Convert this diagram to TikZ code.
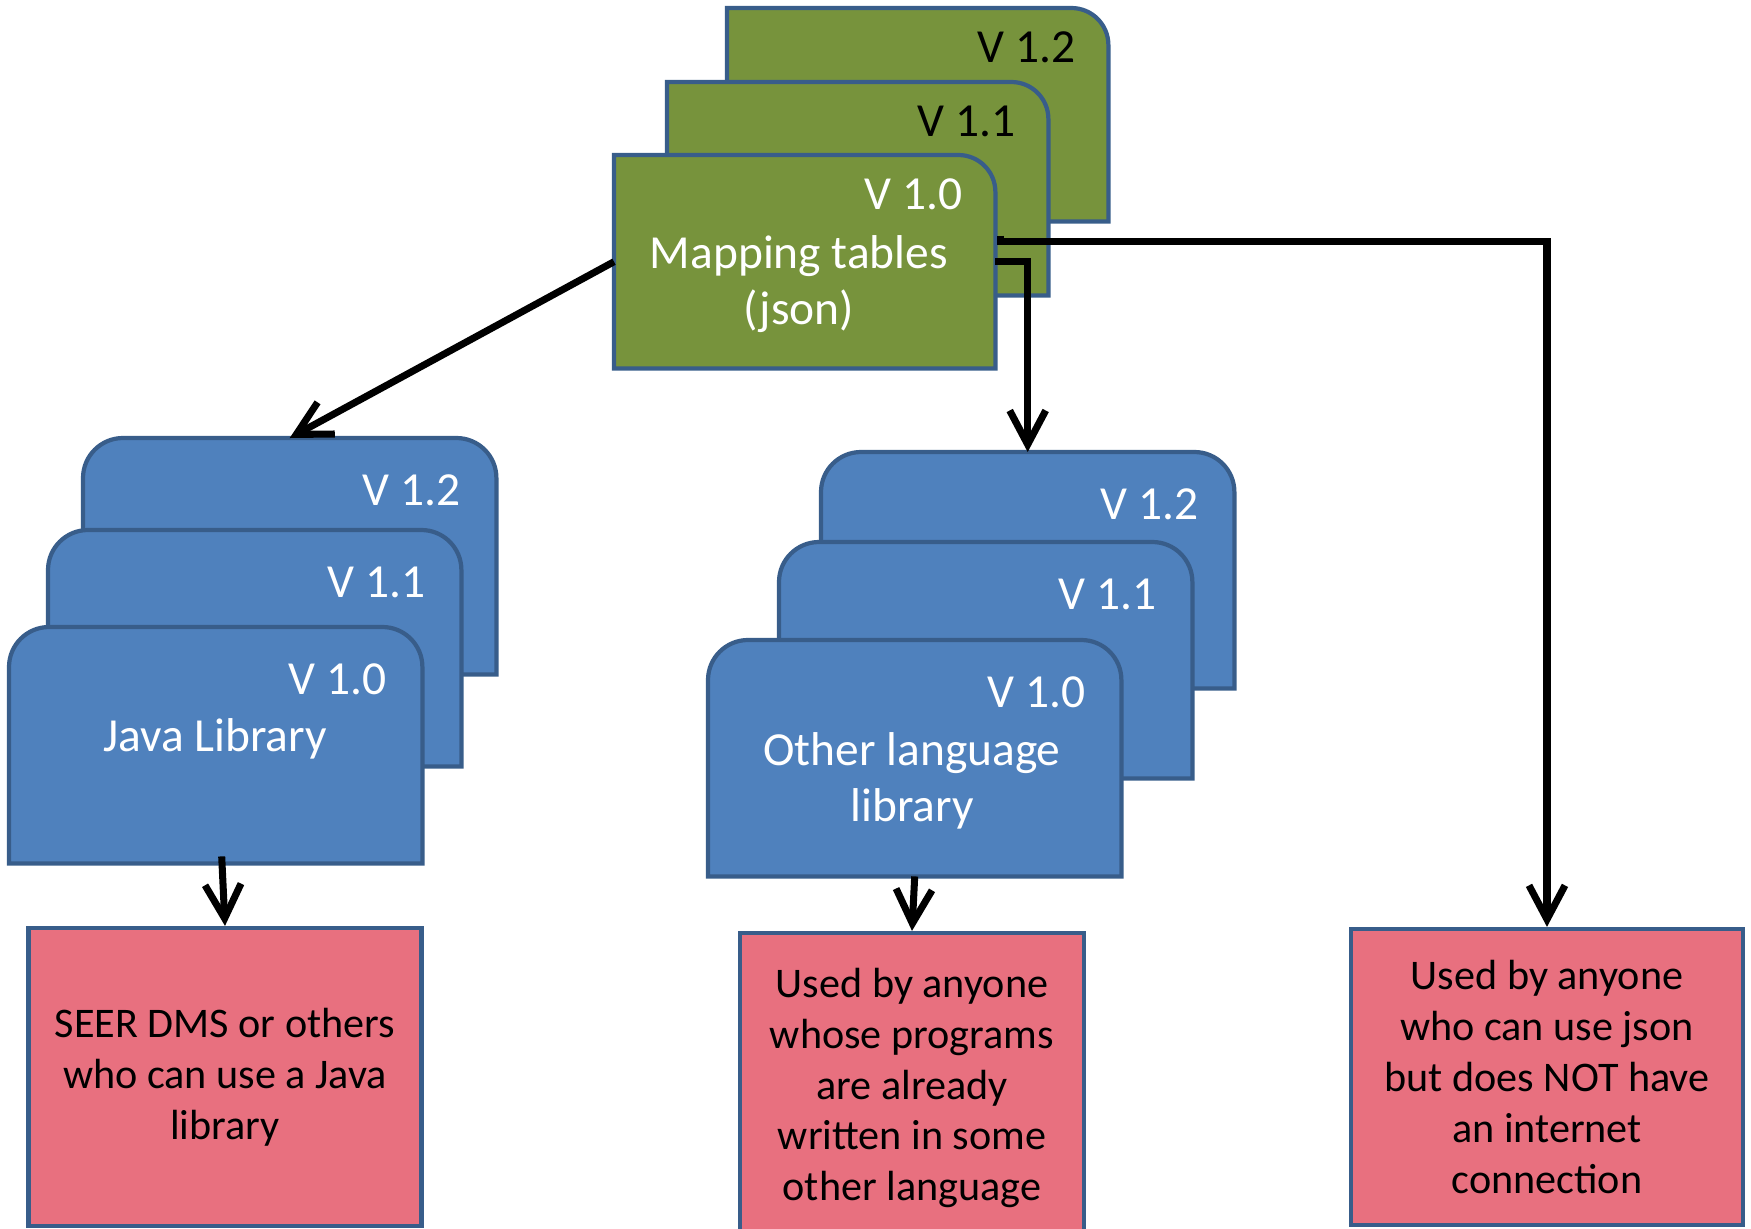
\documentclass[tikz,border=0pt]{standalone}
\usepackage{fontspec}
\setmainfont{Carlito}
\usepackage{tikz}
\usetikzlibrary{arrows.meta}

\definecolor{edge}{HTML}{385D8A}
\definecolor{mapgreen}{HTML}{77933C}
\definecolor{libblue}{HTML}{4F81BD}
\definecolor{userpink}{HTML}{E8707F}

\begin{document}
\begin{tikzpicture}[
    gcard/.style={minimum width=3.80cm, minimum height=2.12cm, inner sep=0pt, anchor=north west},
    bcard/.style={minimum width=4.12cm, minimum height=2.35cm, inner sep=0pt, anchor=north west},
    cardline/.style={draw=edge, line width=1.2pt},
    version/.style={anchor=east, inner sep=0pt, font=\fontsize{13.5}{16}\selectfont},
    cardtext/.style={align=center, inner sep=0pt, text=white, font=\fontsize{13.5}{16}\selectfont},
    userbox/.style={draw=edge, fill=userpink, line width=1.2pt, align=center, inner sep=0pt,
        font=\fontsize{12}{14.5}\selectfont},
    flow/.style={-{Straight Barb[length=3.4mm, width=3.6mm]}, line width=2pt}
]
    \useasboundingbox (0,0) rectangle (17.51,-12.29);

    % Mapping tables, back card first
    \foreach \n/\x/\y/\v/\c in {g2/7.27/-0.08/V 1.2/black, g1/6.67/-0.82/V 1.1/black, g0/6.14/-1.55/V 1.0/white}{
        \node[gcard] (\n) at (\x,\y) {};
        \filldraw[cardline, fill=mapgreen] (\n.south west) -- (\n.north west)
            -- ([xshift=-0.37cm]\n.north east) arc[start angle=90, end angle=0, radius=0.37cm]
            -- (\n.south east) -- cycle;
        \node[version, text=\c] (\n-v) at ([xshift=-0.32cm, yshift=-0.39cm]\n.north east) {\v};
    }
    \node[cardtext] (gtext) at (7.99,-2.84) {Mapping tables\\(json)};

    % Java library stack
    \foreach \n/\x/\y/\v in {b2/0.83/-4.38/V 1.2, b1/0.48/-5.30/V 1.1, b0/0.09/-6.27/V 1.0}{
        \node[bcard] (\n) at (\x,\y) {};
        \filldraw[cardline, fill=libblue] (\n.south west) -- ([yshift=-0.4cm]\n.north west)
            arc[start angle=180, end angle=90, radius=0.4cm] -- ([xshift=-0.4cm]\n.north east)
            arc[start angle=90, end angle=0, radius=0.4cm] -- (\n.south east) -- cycle;
        \node[version, text=white] (\n-v) at ([xshift=-0.35cm, yshift=-0.52cm]\n.north east) {\v};
    }
    \node[cardtext] (btext) at (2.15,-7.39) {Java Library};

    % Other language stack
    \foreach \n/\x/\y/\v in {m2/8.21/-4.52/V 1.2, m1/7.79/-5.42/V 1.1, m0/7.08/-6.40/V 1.0}{
        \node[bcard] (\n) at (\x,\y) {};
        \filldraw[cardline, fill=libblue] (\n.south west) -- ([yshift=-0.4cm]\n.north west)
            arc[start angle=180, end angle=90, radius=0.4cm] -- ([xshift=-0.4cm]\n.north east)
            arc[start angle=90, end angle=0, radius=0.4cm] -- (\n.south east) -- cycle;
        \node[version, text=white] (\n-v) at ([xshift=-0.35cm, yshift=-0.52cm]\n.north east) {\v};
    }
    \node[cardtext] (mtext) at (9.12,-7.81) {Other language\\library};

    % Users
    \node[userbox, minimum width=3.93cm, minimum height=2.98cm] (p1) at (2.25,-10.77)
        {SEER DMS or others\\who can use a Java\\library};
    \node[userbox, minimum width=3.44cm, minimum height=3.10cm] (p2) at (9.12,-10.88)
        {Used by anyone\\whose programs\\are already\\written in some\\other language};
    \node[userbox, minimum width=3.92cm, minimum height=2.96cm] (p3) at (15.47,-10.77)
        {Used by anyone\\who can use json\\but does NOT have\\an internet\\connection};

    % Arrows
    \draw[flow] (g0.west) -- (b2.north);
    \draw[flow] (g0.east) -| (m2.north);
    \coordinate (jstub) at ([xshift=0.05cm, yshift=0.26cm]g0.east);
    \draw[flow] (jstub) -- ++(0,-0.06) -| (p3.north);
    \draw[flow] ([xshift=0.06cm, yshift=0.07cm]b0.south) -- (p1.north);
    \draw[flow] (m0.south) -- (p2.north);
\end{tikzpicture}
\end{document}
